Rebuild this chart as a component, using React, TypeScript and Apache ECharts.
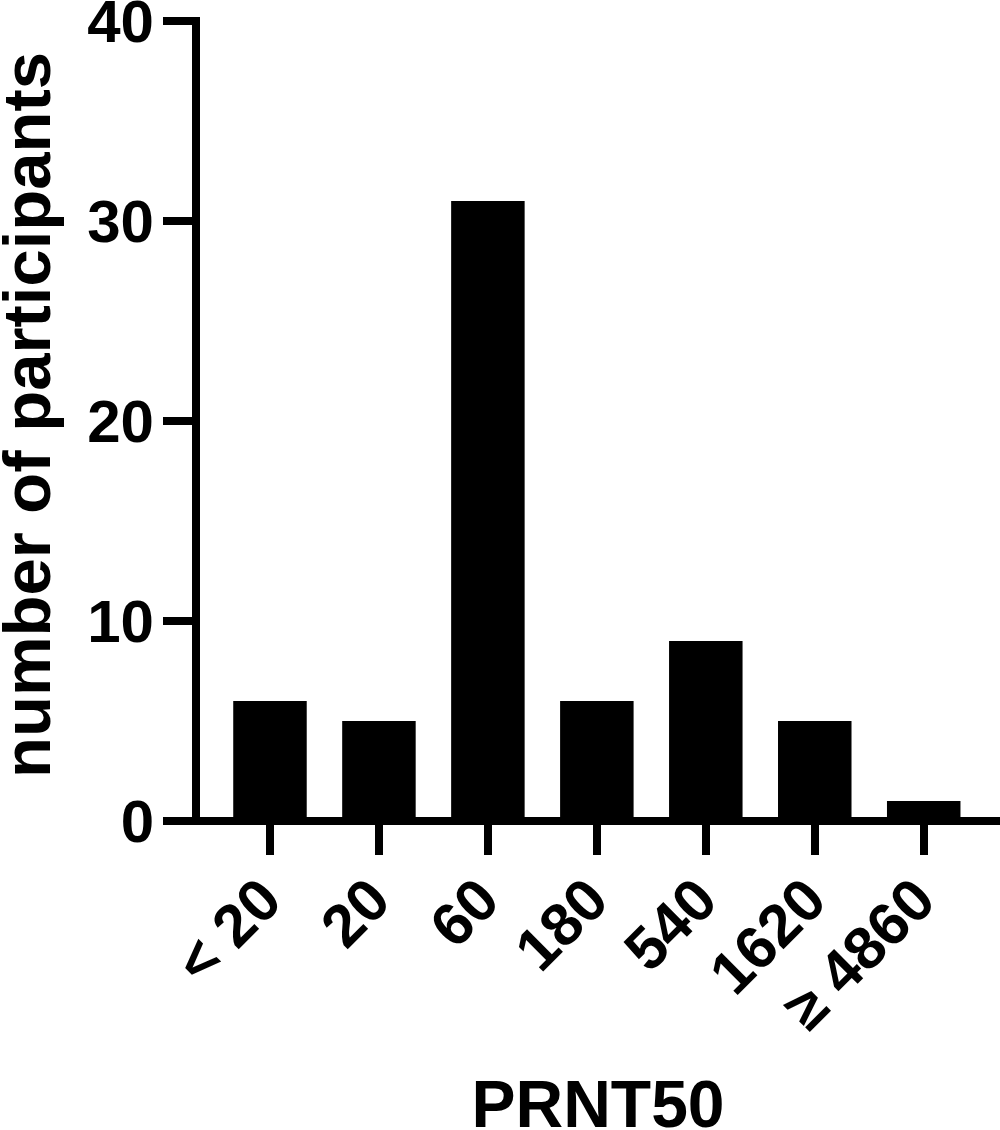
import React, { useEffect, useRef } from "react";
import * as echarts from "echarts";

const categories = ["< 20", "20", "60", "180", "540", "1620", "≥ 4860"];
const participants = [6, 5, 31, 6, 9, 5, 1];
const yMin = 0;
const yMax = 40;
const yInterval = 10;
const xTitle = "PRNT50";
const yTitle = "number of participants";

const FONT = '"Liberation Sans", Arial, Helvetica, sans-serif';

export default function App() {
  const ref = useRef<HTMLDivElement>(null);

  useEffect(() => {
    document.body.style.margin = "0";
    if (!ref.current) return;
    const chart = echarts.init(ref.current, undefined, { renderer: "svg" });
    const top = 21;
    const bottom = 1130 - 821;
    chart.setOption({
      animation: false,
      backgroundColor: "#ffffff",
      grid: [
        { left: 196, right: 0, top, bottom, containLabel: false, outerBoundsMode: "none" },
        { left: 215.5, width: 762.7, top, bottom, containLabel: false, outerBoundsMode: "none" },
      ],
      xAxis: [
        {
          gridIndex: 0,
          type: "value",
          min: 0,
          max: 1,
          axisLine: { show: true, lineStyle: { color: "#000", width: 8 } },
          axisTick: { show: false },
          axisLabel: { show: false },
          splitLine: { show: false },
          name: xTitle,
          nameLocation: "middle",
          nameGap: 250,
          nameTextStyle: { fontFamily: FONT, fontWeight: "bold", fontSize: 66, color: "#000" },
        },
        {
          gridIndex: 1,
          type: "category",
          data: categories,
          axisLine: { show: false },
          axisTick: {
            show: true,
            alignWithLabel: true,
            length: 34,
            lineStyle: { color: "#000", width: 8 },
          },
          axisLabel: {
            rotate: 45,
            margin: 68,
            padding: [14, 0, 0, 0],
            interval: 0,
            fontFamily: FONT,
            fontWeight: "bold",
            fontSize: 60,
            color: "#000",
          },
          splitLine: { show: false },
        },
      ],
      yAxis: [
        {
          gridIndex: 0,
          type: "value",
          min: yMin,
          max: yMax,
          interval: yInterval,
          axisLine: { show: true, lineStyle: { color: "#000", width: 8, cap: "square" } },
          axisTick: { show: true, length: 33, lineStyle: { color: "#000", width: 8 } },
          axisLabel: {
            margin: 42,
            fontFamily: FONT,
            fontWeight: "bold",
            fontSize: 60,
            color: "#000",
          },
          splitLine: { show: false },
          name: yTitle,
          nameLocation: "middle",
          nameGap: 136,
          nameTextStyle: {
            fontFamily: FONT,
            fontWeight: "bold",
            fontSize: 67,
            color: "#000",
            padding: [0, 0, 0, 12],
          },
        },
        {
          gridIndex: 1,
          type: "value",
          min: yMin,
          max: yMax,
          interval: yInterval,
          show: false,
        },
      ],
      series: [
        {
          type: "bar",
          xAxisIndex: 1,
          yAxisIndex: 1,
          data: participants,
          barWidth: 73.5,
          itemStyle: { color: "#000" },
        },
      ],
    });
    return () => chart.dispose();
  }, []);

  return <div ref={ref} style={{ width: 1000, height: 1130 }} />;
}
